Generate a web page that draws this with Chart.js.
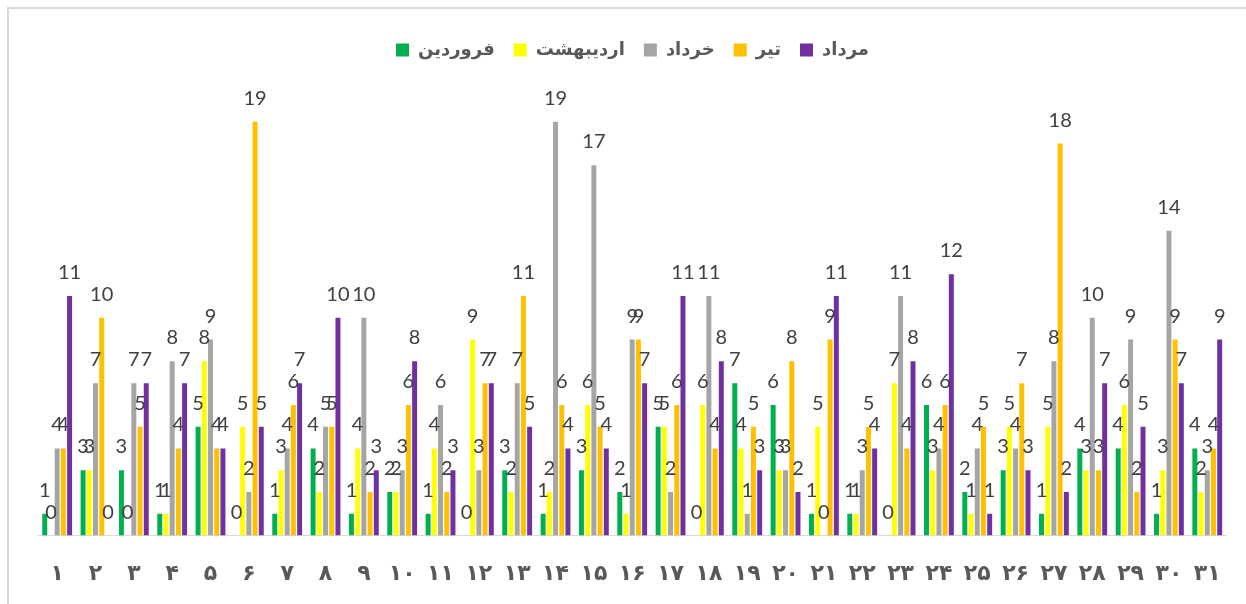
<!DOCTYPE html>
<html lang="fa">
<head>
<meta charset="utf-8">
<title>Chart</title>
<script src="https://cdn.jsdelivr.net/npm/chart.js@4.4.1/dist/chart.umd.min.js"></script>
<style>
    html, body { margin: 0; padding: 0; background: #fff; overflow: hidden; }
    #wrap { position: relative; width: 1246px; height: 604px; }
    #frame {
        position: absolute; left: 7px; top: 7px; width: 1300px; height: 700px;
        border: 2px solid #d9d9d9; pointer-events: none; box-sizing: border-box;
    }
</style>
</head>
<body>
<div id="wrap">
    <canvas id="barChart"></canvas>
    <div id="frame"></div>
</div>
<script>
const days = ['۱', '۲', '۳', '۴', '۵', '۶', '۷', '۸', '۹', '۱۰', '۱۱', '۱۲', '۱۳', '۱۴', '۱۵', '۱۶',
    '۱۷', '۱۸', '۱۹', '۲۰', '۲۱', '۲۲', '۲۳', '۲۴', '۲۵', '۲۶', '۲۷', '۲۸', '۲۹', '۳۰', '۳۱'];

const farvardin = [1, 3, 3, 1, 5, 0, 1, 4, 1, 2, 1, 0, 3, 1, 3, 2, 5, 0, 7, 6, 1, 1, 0, 6, 2, 3, 1, 4, 4, 1, 4];
const ordibehesht = [0, 3, 0, 1, 8, 5, 3, 2, 4, 2, 4, 9, 2, 2, 6, 1, 5, 6, 4, 3, 5, 1, 7, 3, 1, 5, 5, 3, 6, 3, 2];
const khordad = [4, 7, 7, 8, 9, 2, 4, 5, 10, 3, 6, 3, 7, 19, 17, 9, 2, 11, 1, 3, 0, 3, 11, 4, 4, 4, 8, 10, 9, 14, 3];
const tir = [4, 10, 5, 4, 4, 19, 6, 5, 2, 6, 2, 7, 11, 6, 5, 9, 6, 4, 5, 8, 9, 5, 4, 6, 5, 7, 18, 3, 2, 9, 4];
const mordad = [11, 0, 7, 7, 4, 5, 7, 10, 3, 8, 3, 7, 5, 4, 4, 7, 11, 8, 3, 2, 11, 4, 8, 12, 1, 3, 2, 7, 5, 7, 9];

const seriesNames = ['فروردین', 'اردیبهشت', 'خرداد', 'تیر', 'مرداد'];
const seriesColors = ['#00B050', '#FFFF00', '#A5A5A5', '#FFC000', '#7030A0'];
const seriesData = [farvardin, ordibehesht, khordad, tir, mordad];

// value labels above each bar
const barValues = {
    id: 'barValues',
    afterDatasetsDraw(chart) {
        const ctx = chart.ctx;
        ctx.save();
        ctx.font = '20px Lato';
        ctx.fillStyle = '#404040';
        ctx.textAlign = 'center';
        ctx.textBaseline = 'alphabetic';
        chart.data.datasets.forEach((ds, i) => {
            chart.getDatasetMeta(i).data.forEach((bar, j) => {
                ctx.fillText(String(ds.data[j]), bar.x, bar.y - 17);
            });
        });
        ctx.restore();
    }
};

// fixed legend height so the plot starts where the original does
const legendHeight = {
    id: 'legendHeight',
    beforeInit(chart) {
        const fit = chart.legend.fit;
        chart.legend.fit = function () {
            fit.bind(chart.legend)();
            this.height = 78;
        };
    }
};

document.addEventListener('DOMContentLoaded', () => {
    const ctx = document.getElementById('barChart');
    new Chart(ctx, {
        type: 'bar',
        data: {
            labels: days,
            datasets: seriesData.map((d, i) => ({
                label: seriesNames[i],
                data: d,
                backgroundColor: seriesColors[i],
                borderWidth: 0,
                categoryPercentage: 0.81,
                barPercentage: 0.8
            }))
        },
        options: {
            responsive: true,
            maintainAspectRatio: false,
            animation: false,
            layout: {
                padding: { top: 22, left: 38, right: 19, bottom: -8 }
            },
            plugins: {
                legend: {
                    position: 'top',
                    labels: {
                        boxWidth: 13,
                        boxHeight: 13,
                        padding: 19,
                        color: '#595959',
                        font: { family: 'DejaVu Sans', size: 18, weight: 'bold' }
                    }
                },
                tooltip: { enabled: false }
            },
            scales: {
                y: {
                    display: false,
                    min: 0,
                    max: 20
                },
                x: {
                    grid: { display: false, drawTicks: false },
                    border: { color: '#d9d9d9', width: 1 },
                    ticks: {
                        padding: 25,
                        maxRotation: 0,
                        autoSkip: false,
                        color: '#595959',
                        font: { family: 'DejaVu Sans', size: 22, weight: 'bold' }
                    }
                }
            }
        },
        plugins: [barValues, legendHeight]
    });
});
</script>
</body>
</html>
